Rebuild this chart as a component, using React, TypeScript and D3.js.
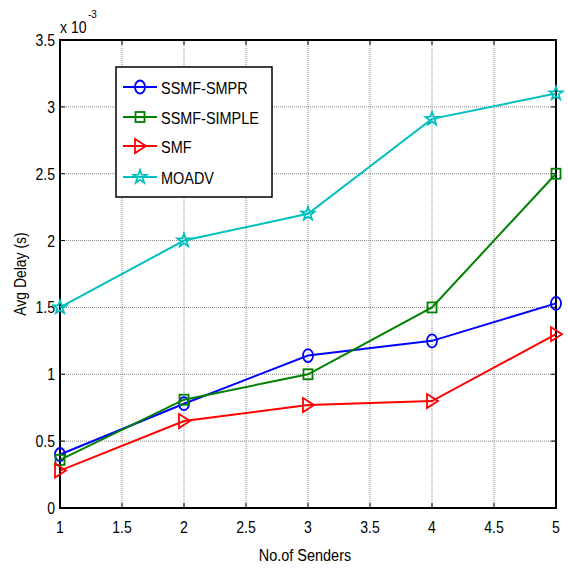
import React, { useEffect, useRef } from 'react'
import * as d3 from 'd3'

const senders = [1, 2, 3, 4, 5]
const ssmfSmpr = [0.4, 0.78, 1.14, 1.25, 1.53]
const ssmfSimple = [0.36, 0.81, 1.0, 1.5, 2.5]
const smf = [0.28, 0.65, 0.77, 0.8, 1.3]
const moadv = [1.5, 2.0, 2.2, 2.91, 3.1]

const xTicks = [1, 1.5, 2, 2.5, 3, 3.5, 4, 4.5, 5]
const yTicks = [0, 0.5, 1, 1.5, 2, 2.5, 3, 3.5]

const series = [
  { name: 'SSMF-SMPR', values: ssmfSmpr, color: '#0000ff', marker: 'circle' },
  { name: 'SSMF-SIMPLE', values: ssmfSimple, color: '#008000', marker: 'square' },
  { name: 'SMF', values: smf, color: '#ff0000', marker: 'triangle' },
  { name: 'MOADV', values: moadv, color: '#00bfbf', marker: 'star' },
]

const font = '"Liberation Sans", Arial, sans-serif'

// the reference text is tall and narrow, so squeeze it horizontally
function label(g: any, x: number, y: number, str: string, size: number, sx: number, anchor = 'start', rot = 0) {
  return g.append('text')
    .attr('transform', `translate(${x},${y}) rotate(${rot}) scale(${sx},1)`)
    .attr('font-family', font).attr('font-size', size).attr('fill', '#000')
    .attr('text-anchor', anchor).text(str)
}

function drawMarker(g: any, type: string, cx: number, cy: number, color: string) {
  if (type === 'circle') {
    g.append('ellipse').attr('cx', cx).attr('cy', cy).attr('rx', 5).attr('ry', 6.5)
      .attr('fill', 'none').attr('stroke', color).attr('stroke-width', 1.8)
  } else if (type === 'square') {
    g.append('rect').attr('x', cx - 4.5).attr('y', cy - 5).attr('width', 9).attr('height', 10)
      .attr('fill', 'none').attr('stroke', color).attr('stroke-width', 1.8)
  } else if (type === 'triangle') {
    g.append('path').attr('d', `M${cx - 5},${cy - 7}L${cx + 6},${cy}L${cx - 5},${cy + 7}Z`)
      .attr('fill', 'none').attr('stroke', color).attr('stroke-width', 1.8)
  } else {
    const pts: [number, number][] = []
    for (let i = 0; i < 10; i++) {
      const r = i % 2 === 0 ? 7 : 2.8
      const a = -Math.PI / 2 + (i * Math.PI) / 5
      pts.push([cx + r * Math.cos(a), cy + r * Math.sin(a)])
    }
    g.append('path').attr('d', 'M' + pts.map(p => p.join(',')).join('L') + 'Z')
      .attr('fill', 'none').attr('stroke', color).attr('stroke-width', 1.8)
  }
}

export default function App() {
  const ref = useRef<SVGSVGElement>(null)

  useEffect(() => {
    const svg = d3.select(ref.current)
    svg.selectAll('*').remove()

    const left = 60, right = 556, top = 40, bottom = 508
    const x = d3.scaleLinear().domain([1, 5]).range([left, right])
    const y = d3.scaleLinear().domain([0, 3.5]).range([bottom, top])

    svg.append('rect').attr('width', 568).attr('height', 569).attr('fill', '#fff')

    // grid
    const grid = svg.append('g').attr('stroke', '#888').attr('stroke-width', 1).attr('stroke-dasharray', '1,1')
    xTicks.slice(1, -1).forEach(t => {
      grid.append('line').attr('x1', x(t)).attr('x2', x(t)).attr('y1', top).attr('y2', bottom)
    })
    yTicks.slice(1, -1).forEach(t => {
      grid.append('line').attr('x1', left).attr('x2', right).attr('y1', y(t)).attr('y2', y(t))
    })

    // ticks on all four sides, pointing in
    const ticks = svg.append('g').attr('stroke', '#000').attr('stroke-width', 1)
    xTicks.forEach(t => {
      ticks.append('line').attr('x1', x(t)).attr('x2', x(t)).attr('y1', bottom).attr('y2', bottom - 5)
      ticks.append('line').attr('x1', x(t)).attr('x2', x(t)).attr('y1', top).attr('y2', top + 5)
    })
    yTicks.forEach(t => {
      ticks.append('line').attr('x1', left).attr('x2', left + 5).attr('y1', y(t)).attr('y2', y(t))
      ticks.append('line').attr('x1', right).attr('x2', right - 5).attr('y1', y(t)).attr('y2', y(t))
    })

    // frame
    svg.append('rect').attr('x', left).attr('y', top).attr('width', right - left).attr('height', bottom - top)
      .attr('fill', 'none').attr('stroke', '#000').attr('stroke-width', 2)

    // tick labels
    const labels = svg.append('g')
    xTicks.forEach(t => label(labels, x(t), 533, String(t), 16, 0.88, 'middle'))
    yTicks.forEach(t => label(labels, 55, y(t) + 6, String(t), 16, 0.88, 'end'))

    // exponent
    label(labels, 60, 33, 'x 10', 16, 0.88)
    label(labels, 88, 18, '-3', 11, 0.9)

    // axis titles
    label(svg, 305, 561, 'No.of Senders', 17, 0.85, 'middle')
    label(svg, 26, 274, 'Avg Delay (s)', 17, 0.82, 'middle', -90)

    // series
    const line = d3.line<number>().x((_, i) => x(senders[i])).y(d => y(d))
    series.forEach(s => {
      const g = svg.append('g')
      g.append('path').attr('d', line(s.values)).attr('fill', 'none')
        .attr('stroke', s.color).attr('stroke-width', 2)
      s.values.forEach((v, i) => drawMarker(g, s.marker, x(senders[i]), y(v), s.color))
    })

    // legend
    const lg = svg.append('g')
    lg.append('rect').attr('x', 116).attr('y', 67).attr('width', 156).attr('height', 130)
      .attr('fill', '#fff').attr('stroke', '#000').attr('stroke-width', 1.5)
    const rowY = [87, 117, 146, 177]
    series.forEach((s, i) => {
      lg.append('line').attr('x1', 123).attr('x2', 157).attr('y1', rowY[i]).attr('y2', rowY[i])
        .attr('stroke', s.color).attr('stroke-width', 2)
      drawMarker(lg, s.marker, 140, rowY[i], s.color)
      label(lg, 161, rowY[i] + 6.5, s.name, 17, 0.85)
    })
  }, [])

  return <svg ref={ref} width={568} height={569} style={{ position: 'absolute', left: 0, top: 0 }}></svg>
}
